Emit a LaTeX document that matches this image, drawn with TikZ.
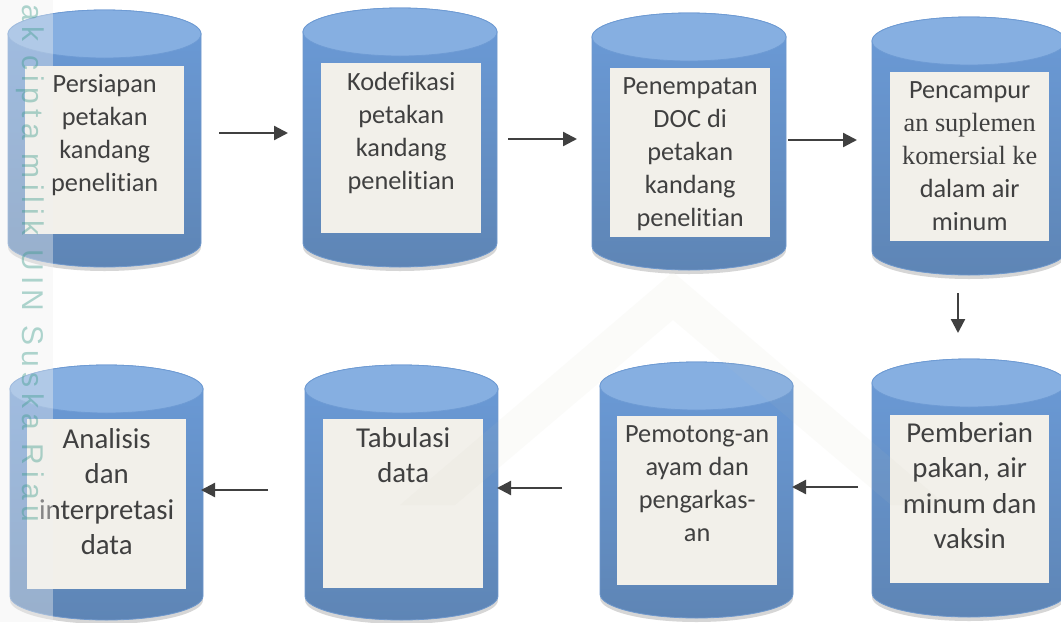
\documentclass[tikz,border=0pt]{standalone}
\usepackage{fontspec}
\setmainfont[Ligatures=NoCommon]{Carlito}
\newfontfamily\serifx{Liberation Serif}
\newfontfamily\wmfont[LetterSpace=18]{Liberation Sans}
\usetikzlibrary{arrows.meta,calc}

\definecolor{bodytop}{HTML}{6B9BD8}
\definecolor{bodybot}{HTML}{5E85B5}
\definecolor{capfill}{HTML}{86AFE1}
\definecolor{capedge}{HTML}{6E9BD4}
\definecolor{edgec}{HTML}{6F98CC}
\definecolor{boxfill}{HTML}{F2F0EA}
\definecolor{txt}{HTML}{404040}
\definecolor{wmc}{HTML}{3A9A8A}
\definecolor{logoc}{HTML}{C8C8B8}
\definecolor{shadowc}{HTML}{D6D6D6}

\newcommand\mycyl[4]{% x0 x1 ytop ybot
  \pgfmathsetmacro\cxm{(#1+#2)/2}%
  \pgfmathsetmacro\rxx{(#2-#1)/2}%
  \pgfmathsetmacro\ytt{#3+24}%
  \pgfmathsetmacro\ybb{#4-24}%
  \fill[shadowc] (\cxm,\ybb+4) ellipse [x radius=\rxx, y radius=24];
  \shade[top color=bodytop, bottom color=bodybot, draw=edgec, line width=0.8]
    (#1,\ytt) -- (#1,\ybb)
    arc[start angle=180, end angle=0, x radius=\rxx, y radius=24]
    -- (#2,\ytt)
    arc[start angle=0, end angle=-180, x radius=\rxx, y radius=24] -- cycle;
  \fill[capfill, draw=capedge, line width=0.8] (\cxm,\ytt) ellipse [x radius=\rxx, y radius=24];
}

\tikzset{
  boxs/.style={fill=boxfill, draw=none, inner sep=0, anchor=north west},
  lbl/.style={anchor=north, inner sep=0, align=center, text=txt,
    font=\fontsize{26.3}{33}\selectfont},
  lblbig/.style={lbl, font=\fontsize{28.8}{35.5}\selectfont},
  arr/.style={draw=txt, line width=2.3, -{Triangle[length=14, width=14]}}
}

\begin{document}
\begin{tikzpicture}[x=1pt, y=-1pt]
\useasboundingbox (0,0) rectangle (1061,622);
\clip (0,0) rectangle (1061,622);
\fill[white] (0,0) rectangle (1061,622);

% cylinders
\mycyl{8}{201}{10}{267}
\mycyl{303}{497}{8}{267}
\mycyl{592}{786}{13}{270}
\mycyl{872}{1066}{17}{275}
\mycyl{872}{1066}{359}{617}
\mycyl{600}{793}{362}{618}
\mycyl{305}{498}{365}{620}
\mycyl{10}{203}{365}{620}

% boxes
\node[boxs, minimum width=159, minimum height=168] (b1) at (25,66) {};
\node[boxs, minimum width=160, minimum height=170] (b2) at (321,63) {};
\node[boxs, minimum width=160, minimum height=169] (b3) at (610,68) {};
\node[boxs, minimum width=159, minimum height=169] (b4) at (890,72) {};
\node[boxs, minimum width=159, minimum height=168] (b5) at (890,415) {};
\node[boxs, minimum width=160, minimum height=169] (b6) at (617,416) {};
\node[boxs, minimum width=160, minimum height=169] (b7) at (323,419) {};
\node[boxs, minimum width=159, minimum height=170] (b8) at (27,419) {};

% labels
\node[lbl] (t1) at ($(b1.north)+(0,3)$) {\strut Persiapan\\petakan\\kandang\\penelitian};
\node[lbl] (t2) at ($(b2.north)+(0,4)$) {\strut Kodefikasi\\petakan\\kandang\\penelitian};
\node[lbl] (t3) at ($(b3.north)+(0,3)$) {\strut Penempatan\\DOC di\\petakan\\kandang\\penelitian};
\node[lbl] (t4) at ($(b4.north)+(0,3)$) {\strut Pencampur\\{\serifx an suplemen}\\{\serifx komersial ke}\\dalam air\\minum};
\node[lblbig] (t5) at ($(b5.north)+(0,2)$) {\strut Pemberian\\pakan, air\\minum dan\\vaksin};
\node[lbl] (t6) at ($(b6.north)+(0,3)$) {\strut Pemotong-an\\ayam dan\\pengarkas-\\an};
\node[lblbig] (t7) at ($(b7.north)+(0,3)$) {\strut Tabulasi\\data};
\node[lblbig] (t8) at ($(b8.north)+(0,4)$) {\strut Analisis\\dan\\interpretasi\\data};

% arrows
\coordinate (a1s) at (219,133); \coordinate (a1e) at (288,133);
\coordinate (a2s) at (508,139); \coordinate (a2e) at (577,139);
\coordinate (a3s) at (788,140); \coordinate (a3e) at (857,140);
\coordinate (a4s) at (958,293); \coordinate (a4e) at (958,333);
\coordinate (a5s) at (858,487); \coordinate (a5e) at (792,487);
\coordinate (a6s) at (562,488); \coordinate (a6e) at (497,488);
\coordinate (a7s) at (268,490); \coordinate (a7e) at (201,490);
\draw[arr] (a1s) -- (a1e);
\draw[arr] (a2s) -- (a2e);
\draw[arr] (a3s) -- (a3e);
\draw[arr] (a4s) -- (a4e);
\draw[arr] (a5s) -- (a5e);
\draw[arr] (a6s) -- (a6e);
\draw[arr] (a7s) -- (a7e);

% faint logo watermark
\fill[logoc, opacity=0.07] (673,272) -- (946,505) -- (891,505) -- (673,320) -- (455,505) -- (400,505) -- cycle;

% left watermark strip
\fill[black!6, opacity=0.4] (0,0) rectangle (53,622);
\node[rotate=-90, anchor=base west, inner sep=0, text=wmc, opacity=0.4,
  font=\wmfont\fontsize{30}{36}\selectfont] (wm) at (23,-23) {Hak cipta milik UIN Suska Riau};
\end{tikzpicture}
\end{document}
